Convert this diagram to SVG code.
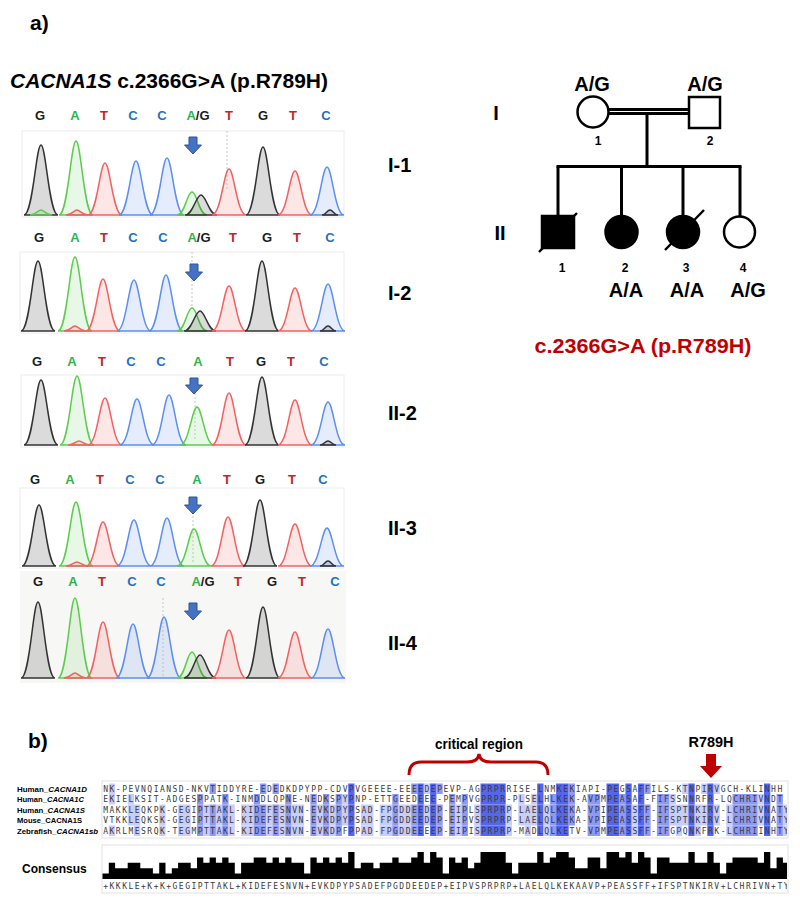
<svg xmlns="http://www.w3.org/2000/svg" xmlns:xlink="http://www.w3.org/1999/xlink" width="800" height="902" viewBox="0 0 800 902">
<style>
text{font-family:"Liberation Sans",Arial,sans-serif;font-weight:bold}
.base{font-size:13px;text-anchor:middle}
.bG{fill:#1c1c1c}.bA{fill:#2eb34f}.bT{fill:#c42424}.bC{fill:#1f72be}
.pg{stroke:#333;fill:#000;fill-opacity:.14;stroke-width:1.5}
.pa{stroke:#5ccc4e;fill:#5ccc4e;fill-opacity:.14;stroke-width:1.5}
.pt{stroke:#f06262;fill:#f06262;fill-opacity:.16;stroke-width:1.5}
.pc{stroke:#5c8ff0;fill:#5c8ff0;fill-opacity:.16;stroke-width:1.5}
.frame{fill:#fff;stroke:#ececec;stroke-width:1}
.dot{stroke:#c8c8c8;stroke-width:1;stroke-dasharray:2 2}
.arr{fill:#4472c4;stroke:#2f5597;stroke-width:1}
.lab{font-size:20px}
.ped{stroke:#000;stroke-width:3;fill:none}
.sym{stroke:#000;stroke-width:2.5}
.pt1{font-size:20px;text-anchor:middle}
.num{font-size:12px;text-anchor:middle}
.seq{font-family:"DejaVu Sans Mono",monospace;font-weight:normal;font-size:8px;fill:#3a3a3a;letter-spacing:1.484px}
.d{fill:#5566ee}.m{fill:#8e99f4}.l{fill:#c9cdf9}
.rl{font-size:7.8px}
</style>
<defs>
<clipPath id="alclip"><rect x="102" y="770" width="685" height="130"/></clipPath>
<g id="hl3">
<rect class="l" x="127.7" width="12.6" height="10.5"/><rect class="l" x="159.2" width="6.3" height="10.5"/><rect class="l" x="178.1" width="12.6" height="10.5"/>
<rect class="m" x="197" width="6.3" height="10.5"/><rect class="l" x="203.3" width="6.3" height="10.5"/><rect class="m" x="209.6" width="6.3" height="10.5"/><rect class="l" x="215.9" width="6.3" height="10.5"/><rect class="m" x="222.2" width="6.3" height="10.5"/><rect class="l" x="228.5" width="6.3" height="10.5"/>
<rect class="l" x="241.1" width="12.6" height="10.5"/><rect class="m" x="253.7" width="12.6" height="10.5"/><rect class="l" x="266.3" width="6.3" height="10.5"/><rect class="m" x="272.6" width="6.3" height="10.5"/><rect class="l" x="278.9" width="6.3" height="10.5"/><rect class="m" x="285.2" width="6.3" height="10.5"/><rect class="l" x="291.5" width="12.6" height="10.5"/>
<rect class="m" x="310.4" width="6.3" height="10.5"/><rect class="l" x="316.7" width="6.3" height="10.5"/><rect class="m" x="323" width="6.3" height="10.5"/><rect class="l" x="329.3" width="6.3" height="10.5"/><rect class="m" x="335.6" width="6.3" height="10.5"/><rect class="l" x="341.9" width="6.3" height="10.5"/><rect class="d" x="348.2" width="6.3" height="10.5"/>
<rect class="l" x="360.8" width="12.6" height="10.5"/><rect class="l" x="379.7" width="12.6" height="10.5"/><rect class="m" x="392.3" width="6.3" height="10.5"/><rect class="l" x="398.6" width="12.6" height="10.5"/><rect class="m" x="411.2" width="6.3" height="10.5"/><rect class="d" x="417.5" width="6.3" height="10.5"/><rect class="l" x="423.8" width="6.3" height="10.5"/><rect class="d" x="430.1" width="6.3" height="10.5"/><rect class="m" x="436.4" width="6.3" height="10.5"/>
<rect class="m" x="449" width="6.3" height="10.5"/><rect class="l" x="455.3" width="6.3" height="10.5"/><rect class="m" x="461.6" width="6.3" height="10.5"/><rect class="l" x="474.2" width="6.3" height="10.5"/><rect class="d" x="480.5" width="25.2" height="10.5"/><rect class="l" x="505.7" width="6.3" height="10.5"/>
<rect class="l" x="518.3" width="18.9" height="10.5"/><rect class="d" x="537.2" width="6.3" height="10.5"/><rect class="l" x="543.5" width="6.3" height="10.5"/><rect class="m" x="549.8" width="6.3" height="10.5"/><rect class="d" x="556.1" width="12.6" height="10.5"/><rect class="m" x="568.7" width="6.3" height="10.5"/>
<rect class="m" x="587.6" width="12.6" height="10.5"/><rect class="d" x="606.5" width="12.6" height="10.5"/><rect class="m" x="619.1" width="6.3" height="10.5"/><rect class="d" x="625.4" width="6.3" height="10.5"/><rect class="l" x="631.7" width="6.3" height="10.5"/><rect class="d" x="638" width="6.3" height="10.5"/><rect class="m" x="644.3" width="6.3" height="10.5"/>
<rect class="m" x="656.9" width="12.6" height="10.5"/><rect class="l" x="669.5" width="18.9" height="10.5"/><rect class="d" x="688.4" width="6.3" height="10.5"/><rect class="l" x="694.7" width="12.6" height="10.5"/><rect class="d" x="707.3" width="6.3" height="10.5"/><rect class="l" x="713.6" width="6.3" height="10.5"/>
<rect class="l" x="726.2" width="6.3" height="10.5"/><rect class="m" x="732.5" width="25.2" height="10.5"/><rect class="l" x="757.7" width="6.3" height="10.5"/><rect class="d" x="764" width="6.3" height="10.5"/><rect class="m" x="776.6" width="6.3" height="10.5"/><rect class="l" x="782.9" width="6.3" height="10.5"/>
</g>
</defs>
<rect width="800" height="902" fill="#fff"/>

<!-- Part a -->
<g id="title-a">
<text x="30" y="30" font-size="21">a)</text>
<text x="10" y="88" font-size="20" textLength="318" lengthAdjust="spacingAndGlyphs"><tspan font-style="italic">CACNA1S</tspan> c.2366G&gt;A (p.R789H)</text>
</g>

<g id="chrom-I-1">
<g class="base">
<text class="bG" x="40" y="120">G</text><text class="bA" x="75" y="120">A</text><text class="bT" x="104" y="120">T</text><text class="bC" x="133" y="120">C</text><text class="bC" x="162" y="120">C</text><text x="198" y="120"><tspan class="bA">A</tspan><tspan class="bG">/G</tspan></text><text class="bT" x="229" y="120">T</text><text class="bG" x="263" y="120">G</text><text class="bT" x="293" y="120">T</text><text class="bC" x="326" y="120">C</text>
</g>
<rect class="frame" x="22" y="131" width="322" height="86"/>
<line class="dot" x1="227" y1="131" x2="227" y2="190"/>
<path class="pg" d="M24 215C33 215 36 145 41 145C46 145 49 215 58 215Z"/>
<path class="pa" d="M59 215C68 215 71 141 76 141C81 141 84 215 93 215Z"/>
<path class="pt" d="M88 215C97 215 100 163 105 163C110 163 113 215 122 215Z"/>
<path class="pc" d="M119 215C128 215 131 161 136 161C141 161 144 215 153 215Z"/>
<path class="pc" d="M150 215C159 215 162 158 167 158C172 158 175 215 184 215Z"/>
<path class="pa" d="M177 215C185 215 187 192 192 192C197 192 199 215 207 215Z"/>
<path class="pg" d="M185 215C193 215 196 195 201 195C206 195 209 215 217 215Z"/>
<path class="pt" d="M212 215C221 215 224 169 229 169C234 169 237 215 246 215Z"/>
<path class="pg" d="M246 215C255 215 258 147 263 147C268 147 271 215 280 215Z"/>
<path class="pt" d="M278 215C287 215 290 171 295 171C300 171 303 215 312 215Z"/>
<path class="pc" d="M310 215C319 215 322 167 327 167C332 167 335 215 344 215Z"/>
<path class="pa" d="M30 215C36 215 38 210 41 210C44 210 46 215 52 215Z"/>
<path class="pt" d="M66 215C72 215 74 210 77 210C80 210 82 215 88 215Z"/>
<path class="pg" d="M322 215C326 215 327 210 330 210C333 210 334 215 338 215Z"/>
<path class="arr" d="M189 137H197V145H201.5L193 154L184.5 145H189Z"/>
<text class="lab" x="388" y="172">I-1</text>
</g>

<g id="chrom-I-2">
<g class="base">
<text class="bG" x="39" y="242">G</text><text class="bA" x="75" y="242">A</text><text class="bT" x="104" y="242">T</text><text class="bC" x="133" y="242">C</text><text class="bC" x="163" y="242">C</text><text x="199" y="242"><tspan class="bA">A</tspan><tspan class="bG">/G</tspan></text><text class="bT" x="233" y="242">T</text><text class="bG" x="267" y="242">G</text><text class="bT" x="297" y="242">T</text><text class="bC" x="330" y="242">C</text>
</g>
<rect class="frame" x="20" y="252" width="324" height="81"/>
<line class="dot" x1="192" y1="252" x2="192" y2="306"/>
<path class="pg" d="M21 331C30 331 33 261 38 261C43 261 46 331 55 331Z"/>
<path class="pa" d="M58 331C67 331 70 257 75 257C80 257 83 331 92 331Z"/>
<path class="pt" d="M86 331C95 331 98 279 103 279C108 279 111 331 120 331Z"/>
<path class="pc" d="M117 331C126 331 129 280 134 280C139 280 142 331 151 331Z"/>
<path class="pc" d="M149 331C158 331 161 275 166 275C171 275 174 331 183 331Z"/>
<path class="pa" d="M177 331C185 331 187 308 192 308C197 308 199 331 207 331Z"/>
<path class="pg" d="M184 331C192 331 195 311 200 311C205 311 208 331 216 331Z"/>
<path class="pt" d="M212 331C221 331 224 286 229 286C234 286 237 331 246 331Z"/>
<path class="pg" d="M245 331C254 331 257 261 262 261C267 261 270 331 279 331Z"/>
<path class="pt" d="M278 331C287 331 290 288 295 288C300 288 303 331 312 331Z"/>
<path class="pc" d="M311 331C320 331 323 284 328 284C333 284 336 331 345 331Z"/>
<path class="pt" d="M64 331C70 331 72 326 75 326C78 326 80 331 86 331Z"/>
<path class="pg" d="M320 331C324 331 325 326 328 326C331 326 332 331 336 331Z"/>
<path class="arr" d="M190 264H198V272H202.5L194 281L185.5 272H190Z"/>
<text class="lab" x="388" y="300">I-2</text>
</g>

<g id="chrom-II-2">
<g class="base">
<text class="bG" x="37" y="366">G</text><text class="bA" x="72" y="366">A</text><text class="bT" x="102" y="366">T</text><text class="bC" x="131" y="366">C</text><text class="bC" x="161" y="366">C</text><text class="bA" x="198" y="366">A</text><text class="bT" x="230" y="366">T</text><text class="bG" x="261" y="366">G</text><text class="bT" x="291" y="366">T</text><text class="bC" x="324" y="366">C</text>
</g>
<rect class="frame" x="21" y="375" width="323" height="72"/>
<line class="dot" x1="195" y1="393" x2="195" y2="440"/>
<path class="pg" d="M24 445C33 445 36 380 41 380C46 380 49 445 58 445Z"/>
<path class="pa" d="M60 445C69 445 72 376 77 376C82 376 85 445 94 445Z"/>
<path class="pt" d="M88 445C97 445 100 398 105 398C110 398 113 445 122 445Z"/>
<path class="pc" d="M120 445C129 445 132 399 137 399C142 399 145 445 154 445Z"/>
<path class="pc" d="M152 445C161 445 164 395 169 395C174 395 177 445 186 445Z"/>
<path class="pa" d="M180 445C189 445 192 407 197 407C202 407 205 445 214 445Z"/>
<path class="pt" d="M212 445C221 445 224 393 229 393C234 393 237 445 246 445Z"/>
<path class="pg" d="M245 445C254 445 257 377 262 377C267 377 270 445 279 445Z"/>
<path class="pt" d="M278 445C287 445 290 400 295 400C300 400 303 445 312 445Z"/>
<path class="pc" d="M311 445C320 445 323 402 328 402C333 402 336 445 345 445Z"/>
<path class="pt" d="M68 445C74 445 76 441 79 441C82 441 84 445 90 445Z"/>
<path class="pg" d="M320 445C324 445 325 441 328 441C331 441 332 445 336 445Z"/>
<path class="arr" d="M190 378H198V385H202.5L194 394L185.5 385H190Z"/>
<text class="lab" x="388" y="420">II-2</text>
</g>

<g id="chrom-II-3">
<g class="base">
<text class="bG" x="35" y="484">G</text><text class="bA" x="70" y="484">A</text><text class="bT" x="100" y="484">T</text><text class="bC" x="130" y="484">C</text><text class="bC" x="160" y="484">C</text><text class="bA" x="197" y="484">A</text><text class="bT" x="227" y="484">T</text><text class="bG" x="260" y="484">G</text><text class="bT" x="292" y="484">T</text><text class="bC" x="323" y="484">C</text>
</g>
<rect class="frame" x="20" y="488" width="324" height="80"/>
<line class="dot" x1="193" y1="512" x2="193" y2="562"/>
<path class="pg" d="M22 566C31 566 34 505 39 505C44 505 47 566 56 566Z"/>
<path class="pa" d="M59 566C68 566 71 502 76 502C81 502 84 566 93 566Z"/>
<path class="pt" d="M86 566C95 566 98 522 103 522C108 522 111 566 120 566Z"/>
<path class="pc" d="M117 566C126 566 129 520 134 520C139 520 142 566 151 566Z"/>
<path class="pc" d="M150 566C159 566 162 518 167 518C172 518 175 566 184 566Z"/>
<path class="pa" d="M177 566C186 566 189 529 194 529C199 529 202 566 211 566Z"/>
<path class="pt" d="M211 566C220 566 223 517 228 517C233 517 236 566 245 566Z"/>
<path class="pg" d="M243 566C252 566 255 500 260 500C265 500 268 566 277 566Z"/>
<path class="pt" d="M278 566C287 566 290 524 295 524C300 524 303 566 312 566Z"/>
<path class="pc" d="M310 566C319 566 322 528 327 528C332 528 335 566 344 566Z"/>
<path class="pt" d="M66 566C72 566 74 562 77 562C80 562 82 566 88 566Z"/>
<path class="pg" d="M320 566C324 566 325 561 328 561C331 561 332 566 336 566Z"/>
<path class="arr" d="M189 497H197V505H201.5L193 514L184.5 505H189Z"/>
<text class="lab" x="388" y="535">II-3</text>
</g>

<g id="chrom-II-4">
<rect x="20" y="571" width="326" height="112" fill="#f7f7f5"/>
<g class="base">
<text class="bG" x="38" y="586">G</text><text class="bA" x="73" y="586">A</text><text class="bT" x="102" y="586">T</text><text class="bC" x="132" y="586">C</text><text class="bC" x="161" y="586">C</text><text x="203" y="586"><tspan class="bA">A</tspan><tspan class="bG">/G</tspan></text><text class="bT" x="238" y="586">T</text><text class="bG" x="272" y="586">G</text><text class="bT" x="302" y="586">T</text><text class="bC" x="335" y="586">C</text>
</g>
<line class="dot" x1="163" y1="598" x2="163" y2="676"/>
<path class="pg" d="M21 678C30 678 33 602 38 602C43 602 46 678 55 678Z"/>
<path class="pa" d="M58 678C67 678 70 598 75 598C80 598 83 678 92 678Z"/>
<path class="pt" d="M86 678C95 678 98 622 103 622C108 622 111 678 120 678Z"/>
<path class="pc" d="M116 678C125 678 128 624 133 624C138 624 141 678 150 678Z"/>
<path class="pc" d="M147 678C156 678 159 617 164 617C169 617 172 678 181 678Z"/>
<path class="pa" d="M177 678C185 678 187 652 192 652C197 652 199 678 207 678Z"/>
<path class="pg" d="M184 678C192 678 195 655 200 655C205 655 208 678 216 678Z"/>
<path class="pt" d="M212 678C221 678 224 630 229 630C234 630 237 678 246 678Z"/>
<path class="pg" d="M246 678C255 678 258 607 263 607C268 607 271 678 280 678Z"/>
<path class="pt" d="M278 678C287 678 290 632 295 632C300 632 303 678 312 678Z"/>
<path class="pc" d="M311 678C320 678 323 629 328 629C333 629 336 678 345 678Z"/>
<path class="pt" d="M64 678C70 678 72 673 75 673C78 673 80 678 86 678Z"/>
<path class="arr" d="M189 603H197V611H201.5L193 620L184.5 611H189Z"/>
<text class="lab" x="388" y="650">II-4</text>
</g>

<!-- Pedigree -->
<g id="ped-lines" class="ped">
<line x1="608" y1="109.5" x2="689" y2="109.5"/>
<line x1="608" y1="113.5" x2="689" y2="113.5"/>
<line x1="647" y1="113.5" x2="647" y2="166.5"/>
<line x1="556.5" y1="166.5" x2="741.5" y2="166.5"/>
<line x1="558" y1="166.5" x2="558" y2="216"/>
<line x1="621.5" y1="166.5" x2="621.5" y2="216"/>
<line x1="683" y1="166.5" x2="683" y2="216"/>
<line x1="740" y1="166.5" x2="740" y2="216"/>
</g>
<g id="gen-I">
<text class="pt1" x="496" y="120">I</text>
</g>
<g id="gen-II">
<text class="pt1" x="500" y="240">II</text>
</g>
<g id="I-1">
<circle class="sym" cx="593" cy="112" r="15.5" fill="#fff"/>
<text class="pt1" x="592" y="91">A/G</text>
<text class="num" x="598" y="145">1</text>
</g>
<g id="I-2">
<rect class="sym" x="689" y="97" width="31" height="31" fill="#fff"/>
<text class="pt1" x="705" y="91">A/G</text>
<text class="num" x="710" y="145">2</text>
</g>
<g id="II-1">
<rect class="sym" x="542" y="216" width="32" height="32" fill="#000"/>
<line x1="539" y1="252" x2="577" y2="213" stroke="#000" stroke-width="2.5"/>
<text class="num" x="562" y="272">1</text>
</g>
<g id="II-2">
<circle class="sym" cx="621.5" cy="232" r="16" fill="#000"/>
<text class="num" x="625" y="272">2</text>
<text class="pt1" x="626" y="297">A/A</text>
</g>
<g id="II-3">
<circle class="sym" cx="683" cy="232" r="16" fill="#000"/>
<line x1="665" y1="250" x2="704" y2="210" stroke="#000" stroke-width="2.5"/>
<text class="num" x="686" y="272">3</text>
<text class="pt1" x="687" y="297">A/A</text>
</g>
<g id="II-4">
<circle class="sym" cx="739.5" cy="232" r="15.5" fill="#fff"/>
<text class="num" x="743" y="272">4</text>
<text class="pt1" x="748" y="297">A/G</text>
</g>
<g id="variant">
<text x="643" y="353" font-size="20" text-anchor="middle" fill="#c00000" textLength="217" lengthAdjust="spacingAndGlyphs">c.2366G&gt;A (p.R789H)</text>
</g>

<!-- Part b -->
<g id="title-b">
<text x="28" y="748" font-size="21">b)</text>
</g>
<g id="critical-region">
<text x="479" y="749" font-size="14" text-anchor="middle" textLength="88" lengthAdjust="spacingAndGlyphs">critical region</text>
<path d="M409 775Q409 762 421 762H467Q478 762 479 754Q480 762 491 762H536Q548 762 548 775" fill="none" stroke="#c00000" stroke-width="3"/>
</g>
<g id="R789H">
<text x="711" y="747" font-size="15" text-anchor="middle" textLength="45" lengthAdjust="spacingAndGlyphs">R789H</text>
<path d="M706 754H716V766H722L711 778L700 766H706Z" fill="#c00000"/>
</g>

<g id="seq-labels" class="rl">
<text x="17" y="791.5" textLength="70" lengthAdjust="spacingAndGlyphs">Human_<tspan font-style="italic">CACNA1D</tspan></text>
<text x="17" y="802" textLength="67" lengthAdjust="spacingAndGlyphs">Human_<tspan font-style="italic">CACNA1C</tspan></text>
<text x="17" y="812.5" textLength="68" lengthAdjust="spacingAndGlyphs">Human_<tspan font-style="italic">CACNA1S</tspan></text>
<text x="17" y="823" textLength="65" lengthAdjust="spacingAndGlyphs">Mouse_CACNA1S</text>
<text x="17" y="833.5" textLength="81" lengthAdjust="spacingAndGlyphs">Zebrafish_<tspan font-style="italic">CACNA1sb</tspan></text>
</g>

<g id="alignment">
<rect x="102" y="781" width="686" height="57" fill="#fff" stroke="#e2e2e2"/>
<g clip-path="url(#alclip)">
<g transform="translate(0,783.5)">
<rect class="l" x="108.8" width="6.3" height="10.5"/><rect class="m" x="209.6" width="6.3" height="10.5"/><rect class="m" x="260" width="6.3" height="10.5"/><rect class="m" x="272.6" width="6.3" height="10.5"/><rect class="d" x="348.2" width="6.3" height="10.5"/>
<rect class="m" x="411.2" width="6.3" height="10.5"/><rect class="d" x="417.5" width="6.3" height="10.5"/><rect class="l" x="423.8" width="6.3" height="10.5"/><rect class="d" x="430.1" width="6.3" height="10.5"/><rect class="m" x="436.4" width="6.3" height="10.5"/>
<rect class="d" x="480.5" width="25.2" height="10.5"/><rect class="d" x="537.2" width="6.3" height="10.5"/><rect class="d" x="556.1" width="12.6" height="10.5"/><rect class="m" x="568.7" width="6.3" height="10.5"/>
<rect class="d" x="606.5" width="12.6" height="10.5"/><rect class="d" x="625.4" width="6.3" height="10.5"/><rect class="d" x="638" width="6.3" height="10.5"/><rect class="m" x="644.3" width="6.3" height="10.5"/>
<rect class="l" x="682.1" width="6.3" height="10.5"/><rect class="d" x="688.4" width="6.3" height="10.5"/><rect class="l" x="701" width="6.3" height="10.5"/><rect class="d" x="707.3" width="6.3" height="10.5"/><rect class="l" x="713.6" width="6.3" height="10.5"/><rect class="d" x="764" width="6.3" height="10.5"/>
</g>
<g transform="translate(0,794)">
<rect class="l" x="108.8" width="6.3" height="10.5"/><rect class="l" x="127.7" width="6.3" height="10.5"/><rect class="m" x="197" width="6.3" height="10.5"/><rect class="m" x="222.2" width="6.3" height="10.5"/><rect class="m" x="253.7" width="6.3" height="10.5"/><rect class="m" x="285.2" width="6.3" height="10.5"/>
<rect class="m" x="310.4" width="6.3" height="10.5"/><rect class="m" x="323" width="6.3" height="10.5"/><rect class="m" x="335.6" width="6.3" height="10.5"/><rect class="l" x="341.9" width="6.3" height="10.5"/><rect class="d" x="348.2" width="6.3" height="10.5"/>
<rect class="m" x="392.3" width="6.3" height="10.5"/><rect class="d" x="417.5" width="6.3" height="10.5"/><rect class="d" x="430.1" width="6.3" height="10.5"/><rect class="m" x="449" width="6.3" height="10.5"/><rect class="m" x="461.6" width="6.3" height="10.5"/>
<rect class="d" x="480.5" width="25.2" height="10.5"/><rect class="l" x="518.3" width="6.3" height="10.5"/><rect class="l" x="530.9" width="6.3" height="10.5"/><rect class="d" x="537.2" width="6.3" height="10.5"/><rect class="m" x="549.8" width="6.3" height="10.5"/><rect class="d" x="556.1" width="12.6" height="10.5"/><rect class="m" x="568.7" width="6.3" height="10.5"/>
<rect class="m" x="587.6" width="12.6" height="10.5"/><rect class="d" x="606.5" width="12.6" height="10.5"/><rect class="m" x="619.1" width="6.3" height="10.5"/><rect class="d" x="625.4" width="6.3" height="10.5"/><rect class="d" x="638" width="6.3" height="10.5"/>
<rect class="m" x="656.9" width="12.6" height="10.5"/><rect class="l" x="669.5" width="6.3" height="10.5"/><rect class="d" x="688.4" width="6.3" height="10.5"/><rect class="d" x="707.3" width="6.3" height="10.5"/>
<rect class="m" x="732.5" width="25.2" height="10.5"/><rect class="l" x="757.7" width="6.3" height="10.5"/><rect class="d" x="764" width="6.3" height="10.5"/><rect class="m" x="776.6" width="6.3" height="10.5"/>
</g>
<use xlink:href="#hl3" href="#hl3" y="804.5"/>
<use xlink:href="#hl3" href="#hl3" y="815"/>
<g transform="translate(0,825.5)">
<rect class="l" x="108.8" width="6.3" height="10.5"/><rect class="l" x="134" width="6.3" height="10.5"/><rect class="l" x="159.2" width="6.3" height="10.5"/><rect class="l" x="178.1" width="12.6" height="10.5"/>
<rect class="m" x="197" width="6.3" height="10.5"/><rect class="l" x="203.3" width="6.3" height="10.5"/><rect class="m" x="209.6" width="6.3" height="10.5"/><rect class="l" x="215.9" width="6.3" height="10.5"/><rect class="m" x="222.2" width="6.3" height="10.5"/><rect class="l" x="228.5" width="6.3" height="10.5"/>
<rect class="l" x="241.1" width="12.6" height="10.5"/><rect class="m" x="253.7" width="12.6" height="10.5"/><rect class="l" x="266.3" width="6.3" height="10.5"/><rect class="m" x="272.6" width="6.3" height="10.5"/><rect class="l" x="278.9" width="6.3" height="10.5"/><rect class="m" x="285.2" width="6.3" height="10.5"/><rect class="l" x="291.5" width="12.6" height="10.5"/>
<rect class="m" x="310.4" width="6.3" height="10.5"/><rect class="l" x="316.7" width="6.3" height="10.5"/><rect class="m" x="323" width="6.3" height="10.5"/><rect class="l" x="329.3" width="6.3" height="10.5"/><rect class="m" x="335.6" width="6.3" height="10.5"/><rect class="d" x="348.2" width="6.3" height="10.5"/>
<rect class="l" x="360.8" width="12.6" height="10.5"/><rect class="l" x="379.7" width="12.6" height="10.5"/><rect class="m" x="392.3" width="6.3" height="10.5"/><rect class="l" x="398.6" width="12.6" height="10.5"/><rect class="m" x="411.2" width="6.3" height="10.5"/><rect class="d" x="417.5" width="6.3" height="10.5"/><rect class="d" x="430.1" width="6.3" height="10.5"/><rect class="m" x="436.4" width="6.3" height="10.5"/>
<rect class="m" x="449" width="6.3" height="10.5"/><rect class="l" x="455.3" width="6.3" height="10.5"/><rect class="m" x="461.6" width="6.3" height="10.5"/><rect class="l" x="474.2" width="6.3" height="10.5"/><rect class="d" x="480.5" width="25.2" height="10.5"/><rect class="l" x="505.7" width="6.3" height="10.5"/>
<rect class="l" x="524.6" width="6.3" height="10.5"/><rect class="d" x="537.2" width="6.3" height="10.5"/><rect class="l" x="543.5" width="6.3" height="10.5"/><rect class="m" x="549.8" width="6.3" height="10.5"/><rect class="d" x="556.1" width="12.6" height="10.5"/>
<rect class="m" x="587.6" width="12.6" height="10.5"/><rect class="d" x="606.5" width="12.6" height="10.5"/><rect class="m" x="619.1" width="6.3" height="10.5"/><rect class="d" x="625.4" width="6.3" height="10.5"/><rect class="l" x="631.7" width="6.3" height="10.5"/><rect class="d" x="638" width="6.3" height="10.5"/><rect class="m" x="644.3" width="6.3" height="10.5"/>
<rect class="m" x="656.9" width="12.6" height="10.5"/><rect class="l" x="675.8" width="6.3" height="10.5"/><rect class="d" x="688.4" width="6.3" height="10.5"/><rect class="l" x="694.7" width="6.3" height="10.5"/><rect class="d" x="707.3" width="6.3" height="10.5"/>
<rect class="l" x="726.2" width="6.3" height="10.5"/><rect class="m" x="732.5" width="25.2" height="10.5"/><rect class="d" x="764" width="6.3" height="10.5"/><rect class="m" x="776.6" width="6.3" height="10.5"/><rect class="l" x="782.9" width="6.3" height="10.5"/>
</g>
<text class="seq" x="103.24" y="791.7">NK-PEVNQIANSD-NKVTIDDYRE-EDEDKDPYPP-CDVPVGEEEE-EEEEDEPEVP-AGPRPRRISE-LNMKEKIAPI-PEGSAFFILS-KTNPIRVGCH-KLINHH</text>
<text class="seq" x="103.24" y="802.2">EKIELKSIT-ADGESPPATK-INMDDLQPNE-NEDKSPYPNP-ETTGEEDEEE-PEMPVGPRPR-PLSELHLKEK-AVPMPEASAF-FIFSSNNRFR-LQCHRIVNDT</text>
<text class="seq" x="103.24" y="812.7">MAKKLEQKPK-GEGIPTTAKL-KIDEFESNVN-EVKDPYPSAD-FPGDDEEDEP-EIPLSPRPRP-LAELQLKEKA-VPIPEASSFF-IFSPTNKIRV-LCHRIVNATY</text>
<text class="seq" x="103.24" y="823.2">VTKKLEQKSK-GEGIPTTAKL-KIDEFESNVN-EVKDPYPSAD-FPGDDEEDEP-EIPVSPRPRP-LAELQLKEKA-VPIPEASSFF-IFSPTNKIRV-LCHRIVNATY</text>
<text class="seq" x="103.24" y="833.7">AKRLMESRQK-TEGMPTTAKL-KIDEFESNVN-EVKDPFPPAD-FPGDDEEEEP-EIPISPRPRP-MADLQLKETV-VPMPEASSFF-IFGPQNKFRK-LCHRIINHTY</text>
</g>
</g>

<g id="consensus">
<text x="22" y="873" font-size="12">Consensus</text>
<rect x="102" y="845" width="686" height="48" fill="#fff" stroke="#e2e2e2"/>
<g clip-path="url(#alclip)">
<path fill="#000" d="M102.5 879V873.6H108.8V862.8H115.1V868.2H127.7V862.8H140.3V868.2H152.9V873.6H159.2V862.8H165.5V873.6H171.8V868.2H178.1V862.8H190.7V868.2H197V857.4H203.3V862.8H209.6V857.4H215.9V862.8H222.2V857.4H228.5V862.8H234.8V873.6H241.1V862.8H253.7V857.4H266.3V862.8H272.6V857.4H278.9V862.8H285.2V857.4H291.5V862.8H304.1V873.6H310.4V857.4H316.7V862.8H323V857.4H329.3V862.8H335.6V857.4H341.9V862.8H348.2V852H354.5V868.2H360.8V862.8H373.4V868.2H379.7V862.8H392.3V857.4H398.6V862.8H411.2V857.4H417.5V852H423.8V862.8H430.1V852H436.4V857.4H442.7V873.6H449V857.4H455.3V862.8H461.6V857.4H467.9V868.2H474.2V862.8H480.5V852H505.7V862.8H512V873.6H518.3V862.8H537.2V852H543.5V862.8H549.8V857.4H556.1V852H568.7V857.4H575V868.2H587.6V857.4H600.2V868.2H606.5V852H619.1V857.4H625.4V852H631.7V862.8H638V852H644.3V857.4H650.6V873.6H656.9V857.4H669.5V862.8H688.4V852H694.7V862.8H707.3V852H713.6V862.8H719.9V873.6H726.2V862.8H732.5V857.4H757.7V862.8H764V852H770.3V868.2H776.6V857.4H782.9V862.8H787V879Z"/>
<text class="seq" x="103.24" y="888.5">+KKKLE+K+K+GEGIPTTAKL+KIDEFESNVN+EVKDPYPSADEFPGDDEEDEP+EIPVSPRPRP+LAELQLKEKAAVP+PEASSFF+IFSPTNKIRV+LCHRIVN+TY</text>
</g>
</g>
</svg>
